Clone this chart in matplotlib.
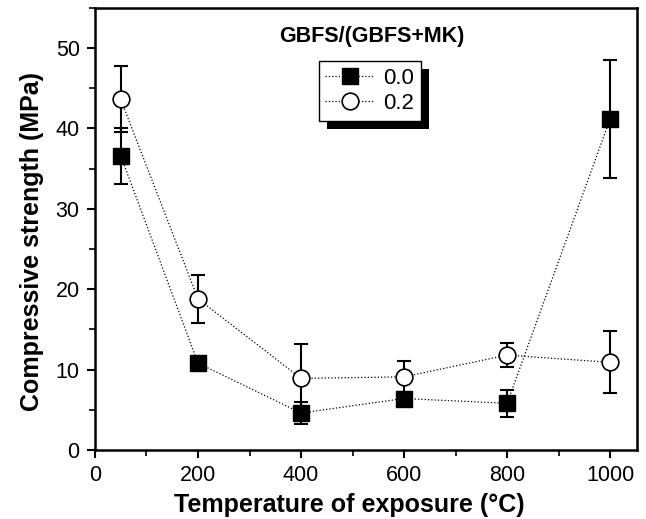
import matplotlib.pyplot as plt
from matplotlib.patches import Rectangle
from matplotlib.ticker import MultipleLocator

plt.rcParams['font.family'] = ['Liberation Sans', 'DejaVu Sans']

# data
temps = [50, 200, 400, 600, 800, 1000]
s00 = [36.6, 10.8, 4.6, 6.4, 5.8, 41.2]
e00 = [3.5, 0.5, 1.4, 0.8, 1.65, 7.35]
s02 = [43.6, 18.8, 8.9, 9.1, 11.8, 10.9]
e02 = [4.1, 3.0, 4.3, 2.0, 1.5, 3.85]
labels = ['0.0', '0.2']

fig = plt.figure(figsize=(6.46, 5.19), dpi=100)
ax = fig.add_axes([0.147, 0.133, 0.839, 0.852])

ax.errorbar(temps, s00, yerr=e00, fmt='none', ecolor='black', elinewidth=1.5,
            capsize=5, capthick=1.5, zorder=2)
ax.errorbar(temps, s02, yerr=e02, fmt='none', ecolor='black', elinewidth=1.5,
            capsize=5, capthick=1.5, zorder=2)
ax.plot(temps, s00, color='black', ls=':', lw=0.9, marker='s', ms=11,
        mfc='black', mec='black', label=labels[0], zorder=3)
ax.plot(temps, s02, color='black', ls=':', lw=0.9, marker='o', ms=12,
        mfc='white', mec='black', mew=1.2, label=labels[1], zorder=3)

ax.set_xlim(0, 1052)
ax.set_ylim(0, 55)
ax.xaxis.set_major_locator(MultipleLocator(200))
ax.xaxis.set_minor_locator(MultipleLocator(100))
ax.yaxis.set_major_locator(MultipleLocator(10))
ax.yaxis.set_minor_locator(MultipleLocator(5))
ax.tick_params(which='major', direction='out', length=6, width=1.5,
               labelsize=15.5, pad=5)
ax.tick_params(which='minor', direction='out', length=4, width=1.2)
for sp in ax.spines.values():
    sp.set_linewidth(1.8)

ax.set_xlabel('Temperature of exposure (°C)', fontsize=18, fontweight='bold')
ax.set_ylabel('Compressive strength (MPa)', fontsize=18, fontweight='bold')
ax.xaxis.set_label_coords(0.469, -0.098)
ax.yaxis.set_label_coords(-0.094, 0.471)

ax.text(0.511, 0.934, 'GBFS/(GBFS+MK)', transform=ax.transAxes, ha='center',
        va='center', fontsize=15.5, fontweight='bold')
leg = ax.legend(loc='upper left', bbox_to_anchor=(0.413, 0.88), borderaxespad=0,
                fontsize=16, fancybox=False, framealpha=1, edgecolor='black',
                handlelength=2.2, handletextpad=0.4, borderpad=0.3,
                labelspacing=0.2)
leg.get_frame().set_linewidth(1.0)

# solid drop shadow behind the legend box
fig.canvas.draw()
bb = leg.get_frame().get_window_extent()
inv = ax.transAxes.inverted()
(x0, y0) = inv.transform((bb.x0 + 8, bb.y0 - 8))
(x1, y1) = inv.transform((bb.x1 + 8, bb.y1 - 8))
ax.add_patch(Rectangle((x0, y0), x1 - x0, y1 - y0, transform=ax.transAxes,
                       facecolor='black', edgecolor='none', zorder=4.9))

fig.savefig('out.png', dpi=100)
